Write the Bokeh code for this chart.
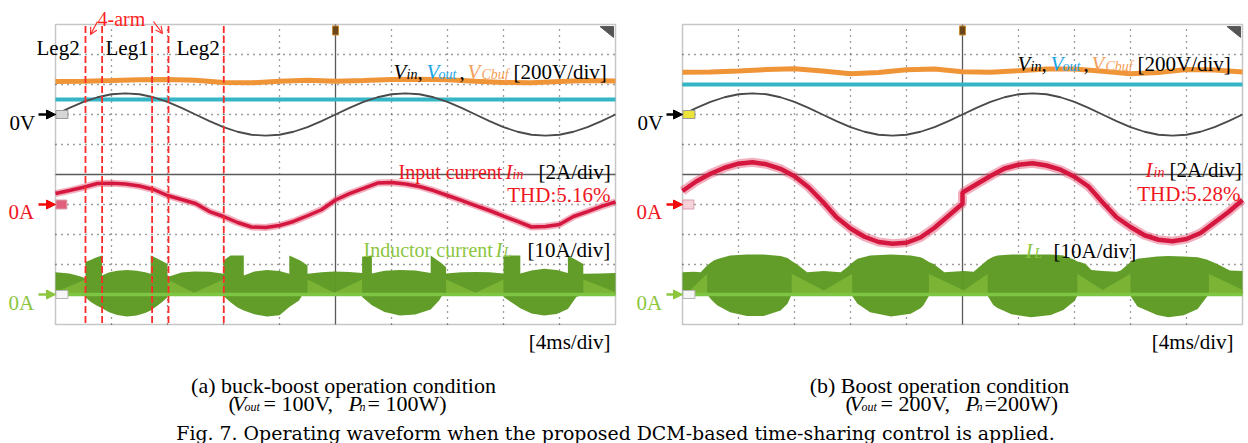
from bokeh.plotting import figure
from bokeh.models import Range1d, Label, Arrow, NormalHead, OpenHead
from bokeh.embed import file_html
from bokeh.resources import INLINE

# ---------------- measured waveforms (scope at 4 ms/div) ----------------
t_ms = list(range(0, 41))                      # 1 ms samples over 10 divisions

# grid voltage, same source in both operating points [V]
vin_v = [0, 44, 84, 115, 135, 141, 135, 115, 84, 44,
         0, -44, -84, -115, -135, -141, -135, -115, -84, -44,
         0, 44, 84, 115, 135, 141, 135, 115, 84, 44,
         0, -44, -84, -115, -135, -141, -135, -115, -84, -44, 0]

# DC output voltage [V]
vout_a = 100
vout_b = 200

# buffer capacitor voltage, 2 ms samples [V]
t_cbuf = list(range(0, 41, 2))
vcbuf_a = [220, 222, 226, 232, 233, 228, 214, 211, 222, 228, 222,
           226, 233, 235, 232, 222, 213, 212, 220, 226, 224]
vcbuf_b = [282, 283, 290, 300, 305, 290, 271, 280, 298, 303, 285,
           282, 292, 304, 304, 288, 271, 280, 300, 297, 283]

# input current [A]
iin_a = [0.73, 0.93, 1.15, 1.4, 1.42, 1.37, 1.23, 1.0, 0.6, 0.33,
         0.07, -0.47, -0.8, -1.2, -1.5, -1.53, -1.4, -1.13, -0.75, -0.35,
         0.3, 0.73, 1.07, 1.43, 1.47, 1.37, 1.2, 0.93, 0.6, 0.27,
         -0.07, -0.4, -0.77, -1.13, -1.5, -1.47, -1.33, -0.8, -0.47, -0.13, 0.17]
t_iin_b = list(range(0, 21)) + list(range(20, 41))
iin_b = [0.9, 1.55, 2.05, 2.45, 2.72, 2.82, 2.68, 2.38, 1.88, 1.15,
         0.2, -0.85, -1.6, -2.15, -2.5, -2.62, -2.55, -2.2, -1.55, -0.75,
         0.05, 0.8, 1.35, 1.9, 2.4, 2.65, 2.75, 2.6, 2.32, 1.85, 1.2,
         0.15, -0.85, -1.5, -2.05, -2.35, -2.45, -2.3, -1.9, -1.2, -0.5, 0.3]

# inductor current switching envelope: upper / lower peak [A]
il_a_t = [0.0, 1.0, 1.8, 2.14, 2.14, 2.5, 2.9, 3.33, 3.33, 3.8, 4.4, 5.1, 5.8, 6.4,
          6.8, 6.8, 7.2, 7.6, 8.0, 8.0, 9.0, 9.9, 11.0, 12.0, 12.0, 12.5, 13.0,
          13.45, 13.45, 14.2, 15.1, 16.0, 16.7, 16.7, 17.4, 17.6, 18.0, 18.0, 19.0,
          19.9, 21.0, 21.9, 21.9, 22.6, 22.6, 23.5, 24.6, 25.7, 26.8, 26.8, 27.4,
          27.6, 27.9, 27.9, 29.0, 30.0, 31.0, 32.0, 32.0, 33.2, 33.2, 34.0, 34.9,
          35.8, 36.6, 36.6, 37.2, 37.7, 37.7, 38.8, 40.0]
il_a_hi = [7.4, 7.0, 6.0, 5.4, 10.8, 11.5, 12.3, 13.0, 6.3, 7.3, 7.9, 8.2, 7.9, 7.4,
           6.9, 13.0, 12.2, 11.2, 10.2, 5.8, 7.3, 7.7, 7.6, 6.9, 11.3, 13.0, 13.0,
           13.0, 6.3, 7.7, 8.2, 7.8, 6.9, 13.0, 11.5, 11.0, 9.7, 6.9, 7.4,
           7.7, 7.5, 7.2, 12.6, 13.0, 7.0, 7.9, 8.2, 8.0, 7.2, 13.0, 11.0,
           10.3, 9.1, 7.0, 7.4, 7.5, 7.4, 7.0, 13.0, 13.0, 7.0, 8.0, 8.6,
           8.2, 7.2, 13.0, 11.5, 10.2, 6.9, 7.0, 7.2]
il_a_lo = [0, 0, 0, 0, -0.9, -2.4, -3.6, -4.6, -4.6, -5.8, -6.8, -7.3, -7.0, -6.2,
           -5.3, -5.3, -4.0, -2.6, -0.9, 0, 0, 0, 0, 0, -0.5, -2.6, -4.3,
           -5.3, -5.3, -6.6, -7.3, -6.9, -4.2, -4.2, -2.0, -0.4, 0, 0, 0,
           0, 0, 0, -0.8, -3.6, -3.6, -5.8, -7.0, -6.7, -5.0, -5.0, -2.0,
           -0.5, 0, 0, 0, 0, 0, 0, -0.8, -4.6, -4.6, -6.3, -7.0,
           -6.5, -4.8, -4.8, -0.8, 0, 0, 0, 0]
il_a_light_t = [[0.0, 2.14], [8.0, 9.9, 12.0], [18.0, 19.9, 21.9],
                [27.9, 30.0, 32.0], [37.7, 40.0]]
il_a_light = [[0.8, 5.0], [5.0, 0.6, 5.0], [5.0, 0.6, 5.0],
              [5.0, 0.6, 5.0], [5.0, 0.8]]

il_b_t = [0.0, 0.8, 1.3, 1.76, 2.0, 2.24, 2.5, 3.4, 4.6, 5.8,
          7.0, 7.5, 7.7, 7.8, 8.2, 8.9, 10.1, 11.3, 11.76, 12.12,
          12.5, 13.4, 14.9, 16.3, 17.0, 17.2, 17.6, 17.95, 18.7, 20.1,
          20.8, 21.4, 21.8, 22.2, 22.5, 23.5, 24.9, 26.3, 27.2, 28.0,
          28.2, 28.4, 28.8, 29.2, 30.0, 31.0, 31.3, 32.0, 32.5, 33.9,
          34.7, 35.8, 36.8, 37.5, 37.6, 38.2, 39.1, 40.0]
il_b_hi = [7.4, 7.6, 7.4, 9.7, 10.6, 11.3, 11.8, 13.0, 13.3, 13.3,
           12.8, 12.2, 11.5, 11.2, 10.0, 7.4, 7.8, 7.4, 9.1, 10.6,
           11.9, 13.0, 13.3, 13.0, 12.4, 12.0, 10.8, 10.2, 7.4, 7.8,
           7.6, 10.0, 11.6, 12.6, 13.0, 13.3, 13.3, 13.3, 13.0, 11.6,
           11.0, 10.8, 10.2, 8.2, 7.8, 7.6, 8.0, 10.8, 11.9, 12.7,
           12.8, 12.7, 12.4, 11.6, 11.3, 10.2, 8.0, 7.8]
il_b_lo = [0, 0, 0, 0, -1.4, -2.6, -3.7, -5.9, -7.2, -7.2,
           -5.3, -3.1, -1.0, 0, 0, 0, 0, 0, 0, -0.5,
           -3.1, -5.9, -7.3, -6.4, -4.6, -3.7, -0.5, 0, 0, 0,
           0, 0, -0.5, -3.5, -4.5, -6.6, -7.6, -6.8, -5.2, -2.2,
           -0.5, 0, 0, 0, 0, 0, 0, -0.5, -4.0, -6.8,
           -7.6, -6.9, -4.8, -0.5, 0, 0, 0, 0]
il_b_light_t = [[0.0, 0.4, 1.76], [7.8, 10.1, 12.12], [17.6, 20.1, 21.8],
                [28.2, 30.0, 32.0], [37.6, 40.0]]
il_b_light = [[1.5, 0.8, 6.9], [6.9, 1.3, 6.9], [6.9, 1.3, 6.9],
              [6.9, 1.5, 6.9], [6.9, 1.5]]

# leg hand-over instants in the buck-boost capture [ms]
arm_edges_ms = [2.14, 3.33, 6.9, 8.07, 12.02]

# ---------------- page geometry ----------------
W, H = 1248, 443
DIV_PX_X, DIV_PX_Y = 56, 30
MS_PER_DIV = 4
SERIF = "Liberation Serif"

RED = "#f0161e"
GREEN_TXT = "#8cc63f"
BLUE_TXT = "#1aa6e8"
ORANGE_TXT = "#f5a05a"


def time_range(left_px):
    k = MS_PER_DIV / DIV_PX_X
    return Range1d(start=-left_px * k, end=(W - left_px) * k)


def level_range(zero_px, per_div):
    k = per_div / DIV_PX_Y
    return Range1d(start=(zero_px - H) * k, end=zero_px * k)


p = figure(width=W, height=H, x_range=Range1d(0, W), y_range=Range1d(H, 0),
           x_axis_location=None, y_axis_location=None, toolbar_location=None,
           output_backend="svg", min_border=0, outline_line_color=None,
           background_fill_color="white", border_fill_color="white")
p.grid.visible = False

p.extra_x_ranges = {"ta": time_range(55), "tb": time_range(682)}
p.extra_y_ranges = {
    "div": level_range(174, 1),     # screen divisions from centre
    "volt": level_range(114, 200),  # CH1-3, 200 V/div
    "iin": level_range(204, 2),     # input current, 2 A/div
    "il": level_range(294, 10),     # inductor current, 10 A/div
}

panels = [
    dict(tr="ta", vout=vout_a, vcbuf=vcbuf_a, it=t_ms, iin=iin_a,
         ilt=il_a_t, ilh=il_a_hi, ill=il_a_lo, lt=il_a_light_t, lv=il_a_light,
         tag1="#d6d6d6", tag2="#e2607c", core=3.5, halo=7),
    dict(tr="tb", vout=vout_b, vcbuf=vcbuf_b, it=t_iin_b, iin=iin_b,
         ilt=il_b_t, ilh=il_b_hi, ill=il_b_lo, lt=il_b_light_t, lv=il_b_light,
         tag1="#ece23a", tag2="#f6d3da", core=4.5, halo=9),
]

for P in panels:
    tr = P["tr"]
    # screen frame and graticule
    p.quad(left=0, right=40, bottom=-5, top=5, x_range_name=tr, y_range_name="div",
           fill_color=None, line_color="#c6c6c6", line_width=1.5)
    vt = [4, 8, 12, 16, 24, 28, 32, 36]
    p.segment(x0=vt, y0=[-5] * 8, x1=vt, y1=[5] * 8, x_range_name=tr,
              y_range_name="div", line_color="#3c3c3c", line_width=1.3, line_dash="1 5")
    hd = [-4, -3, -2, -1, 1, 2, 3, 4]
    p.segment(x0=[0] * 8, y0=hd, x1=[40] * 8, y1=hd, x_range_name=tr,
              y_range_name="div", line_color="#3c3c3c", line_width=1.3, line_dash="1 5")
    p.segment(x0=[20, 0], y0=[-5, 0], x1=[20, 40], y1=[5, 0], x_range_name=tr,
              y_range_name="div", line_color="#5a5a5a", line_width=1.3)

    # inductor current envelope
    p.varea(x=P["ilt"], y1=P["ill"], y2=P["ilh"], x_range_name=tr, y_range_name="il",
            fill_color="#5c9a21", fill_alpha=0.97)
    xs = [seg + seg[::-1] for seg in P["lt"]]
    ys = [lv + [0] * len(lv) for lv in P["lv"]]
    p.patches(xs=xs, ys=ys, x_range_name=tr, y_range_name="il",
              fill_color="#7bb335", line_color=None)
    p.line([0, 40], [0, 0], x_range_name=tr, y_range_name="il",
           line_color="#7ec544", line_width=3.5)

    # voltages
    p.line([0, 40], [P["vout"], P["vout"]], x_range_name=tr, y_range_name="volt",
           line_color="#35b6c5", line_width=4)
    p.line(t_cbuf, P["vcbuf"], x_range_name=tr, y_range_name="volt",
           line_color="#f09438", line_width=5)
    p.line(t_ms, vin_v, x_range_name=tr, y_range_name="volt",
           line_color="#4a4a4a", line_width=1.8)

    # input current
    p.line(P["it"], P["iin"], x_range_name=tr, y_range_name="iin",
           line_color="#e2506f", line_width=P["halo"], line_alpha=0.45)
    p.line(P["it"], P["iin"], x_range_name=tr, y_range_name="iin",
           line_color="#d5173f", line_width=P["core"])

    # channel reference tags, trigger marker, corner flag
    p.rect(x=[0.46], y=[0], width=12, height=8, width_units="screen",
           height_units="screen", x_range_name=tr, y_range_name="volt",
           fill_color=P["tag1"], line_color="#9a9a9a")
    p.rect(x=[0.42], y=[0], width=11, height=9, width_units="screen",
           height_units="screen", x_range_name=tr, y_range_name="iin",
           fill_color=P["tag2"], line_color="#d9a0ad")
    p.rect(x=[0.46], y=[0], width=12, height=8, width_units="screen",
           height_units="screen", x_range_name=tr, y_range_name="il",
           fill_color="#f6f6f6", line_color="#b5b5b5")
    p.rect(x=[20], y=[4.8], width=6, height=9, width_units="screen",
           height_units="screen", x_range_name=tr, y_range_name="div",
           fill_color="#6a4618", line_color="#c98a34")
    p.patch(x=[38.9, 39.86, 39.86], y=[4.93, 4.93, 4.57], x_range_name=tr,
            y_range_name="div", fill_color="#555555", line_color="#555555")

# leg boundaries in the buck-boost capture
p.segment(x0=arm_edges_ms, y0=[-4.95] * 5, x1=arm_edges_ms, y1=[4.95] * 5,
          x_range_name="ta", y_range_name="div", line_color="#ff2b2b",
          line_width=1.8, line_dash="7 3")


def txt(x, y, text, color="black", size=21, italic=False, align="left", font=SERIF):
    p.add_layout(Label(x=x, y=y, text=text, text_color=color, text_font=font,
                       text_font_size=f"{size}px", text_align=align,
                       text_baseline="alphabetic",
                       text_font_style="italic" if italic else "normal"))


def arrow(x0, x1, y, color):
    p.add_layout(Arrow(end=NormalHead(size=9, fill_color=color, line_color=color),
                       x_start=x0, y_start=y, x_end=x1, y_end=y,
                       line_color=color, line_width=2.6))


# channel zero markers
for left, tip in ((9, 55), (637, 682)):
    txt(left, 122, "0V")
    arrow(left + 29, tip, 114, "black")
    txt(left - 1, 211, "0A", RED)
    arrow(left + 29, tip, 204, "#f00a0a")
    txt(left - 1, 302, "0A", GREEN_TXT)
    arrow(left + 29, tip, 294, "#8cc63f")


def volt_label(x0, base):
    txt(x0, base, "V", italic=True)
    txt(x0 + 13, base + 3, "in", size=14, italic=True)
    txt(x0 + 24, base, ",")
    txt(x0 + 33, base, "V", BLUE_TXT, italic=True)
    txt(x0 + 45, base + 3, "out", BLUE_TXT, size=14, italic=True)
    txt(x0 + 66, base, ",")
    txt(x0 + 74, base, "V", ORANGE_TXT, italic=True)
    txt(x0 + 88, base + 3, "Cbuf", ORANGE_TXT, size=14, italic=True)
    txt(x0 + 120, base, "[200V/div]")


volt_label(393, 71)
volt_label(1017, 63)

# buck-boost panel annotations
txt(398, 171, "Input current", RED, size=20)
txt(505, 171, "I", RED, italic=True)
txt(512, 174, "in", RED, size=14, italic=True)
txt(538, 171, "[2A/div]")
txt(610, 194, "THD:5.16%", RED, align="right")
txt(363, 249, "Inductor current", GREEN_TXT, size=20)
txt(495, 249, "I", GREEN_TXT, italic=True)
txt(503, 252, "L", GREEN_TXT, size=14, italic=True)
txt(527, 249, "[10A/div]")
txt(610, 341, "[4ms/div]", align="right")

txt(36, 47, "Leg2")
txt(105, 47, "Leg1")
txt(176, 47, "Leg2")
txt(97, 18, "4-arm", "#ff1f1f", size=20)
for xs_, ys_, xe_, ye_ in ((97, 21, 90, 34), (153, 21, 162, 33)):
    p.add_layout(Arrow(end=OpenHead(size=7, line_color="#ff2b2b", line_width=1.2),
                       x_start=xs_, y_start=ys_, x_end=xe_, y_end=ye_,
                       line_color="#ff2b2b", line_width=1.2))

# boost panel annotations
txt(1145, 169, "I", RED, italic=True)
txt(1153, 172, "in", RED, size=14, italic=True)
txt(1169, 169, "[2A/div]")
txt(1240, 193, "THD:5.28%", RED, align="right")
txt(1025, 250, "I", GREEN_TXT, italic=True)
txt(1034, 253, "L", GREEN_TXT, size=14, italic=True)
txt(1053, 250, "[10A/div]")
txt(1233, 341, "[4ms/div]", align="right")

# sub-figure captions
txt(343, 385, "(a) buck-boost operation condition", size=22, align="center")
txt(939, 385, "(b) Boost operation condition", size=22, align="center")
for x0, vo, pn in ((228, "=  100V,", "= 100W)"), (845, "=  200V,", "=200W)")):
    txt(x0, 403, "(", size=22)
    txt(x0 + 4, 403, "V", size=22, italic=True)
    txt(x0 + 16, 406, "out", size=12, italic=True)
    txt(x0 + 35, 403, vo, size=22)
    txt(x0 + 120, 403, "P", size=22, italic=True)
    txt(x0 + 131, 406, "n", size=12, italic=True)
    txt(x0 + 139, 403, pn, size=22)

txt(615, 432, "Fig. 7. Operating waveform when the proposed DCM-based "
              "time-sharing control is applied.", size=18.9, align="center",
    font="DejaVu Serif")

open("out.html", "w").write(file_html(p, INLINE))
